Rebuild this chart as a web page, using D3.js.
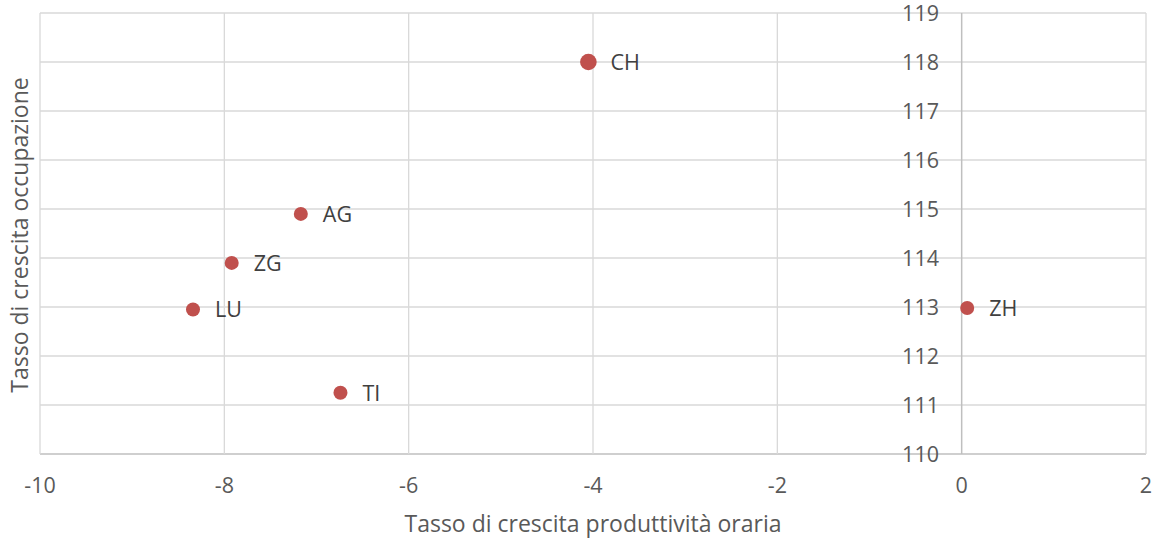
<!DOCTYPE html>
<html>
<head>
<meta charset="utf-8">
<script src="https://cdn.jsdelivr.net/npm/d3@7"></script>
<style>
  body { margin: 0; background: #fff; }
  text { font-family: "Open Sans", Lato, sans-serif; fill: #595959; }
</style>
</head>
<body>
<svg id="chart" width="1158" height="540"></svg>
<script>
// data
const cantons = ['CH', 'AG', 'ZG', 'LU', 'TI', 'ZH'];
const produttivita = [-4.05, -7.17, -7.92, -8.34, -6.74, 0.06];
const occupazione = [118.0, 114.9, 113.9, 112.95, 111.25, 112.98];
const xTicks = [-10, -8, -6, -4, -2, 0, 2];
const yTicks = [110, 111, 112, 113, 114, 115, 116, 117, 118, 119];

const svg = d3.select('#chart');
const x = d3.scaleLinear().domain([-10, 2]).range([40, 1146]);
const y = d3.scaleLinear().domain([110, 119]).range([454, 13]);

// grid
svg.append('g')
  .selectAll('line.h')
  .data(yTicks)
  .join('line')
  .attr('x1', x(-10)).attr('x2', x(2))
  .attr('y1', (d) => y(d)).attr('y2', (d) => y(d))
  .attr('stroke', (d) => (d === 110 ? '#bfbfbf' : '#d9d9d9'))
  .attr('stroke-width', (d) => (d === 110 ? 1.5 : 1.3));

svg.append('g')
  .selectAll('line.v')
  .data(xTicks)
  .join('line')
  .attr('y1', y(110)).attr('y2', y(119))
  .attr('x1', (d) => x(d)).attr('x2', (d) => x(d))
  .attr('stroke', (d) => (d === 0 ? '#bfbfbf' : '#d9d9d9'))
  .attr('stroke-width', (d) => (d === 0 ? 1.5 : 1.3));

// tick labels
svg.append('g')
  .selectAll('text')
  .data(xTicks)
  .join('text')
  .attr('x', (d) => x(d))
  .attr('y', 493)
  .attr('text-anchor', 'middle')
  .style('font-size', '21.5px')
  .text((d) => d);

svg.append('g')
  .selectAll('text')
  .data(yTicks)
  .join('text')
  .attr('x', 939)
  .attr('y', (d) => y(d) + 8)
  .attr('text-anchor', 'end')
  .style('font-size', '21.5px')
  .text((d) => d);

// axis titles
svg.append('text')
  .attr('x', 593)
  .attr('y', 532)
  .attr('text-anchor', 'middle')
  .style('font-size', '23px')
  .text('Tasso di crescita produttività oraria');

svg.append('text')
  .attr('transform', 'translate(28, 235) rotate(-90)')
  .attr('text-anchor', 'middle')
  .style('font-size', '23px')
  .text('Tasso di crescita occupazione');

// points
const pts = svg.append('g')
  .selectAll('g')
  .data(cantons.map((c, i) => ({ name: c, px: produttivita[i], oc: occupazione[i] })))
  .join('g')
  .attr('transform', (d) => `translate(${x(d.px)}, ${y(d.oc)})`);

pts.append('circle')
  .attr('r', (d) => (d.name === 'CH' ? 8.3 : 7))
  .attr('fill', '#c0504d');

pts.append('text')
  .attr('x', 22)
  .attr('y', 8)
  .style('font-size', '21.5px')
  .style('fill', '#404040')
  .text((d) => d.name);
</script>
</body>
</html>
